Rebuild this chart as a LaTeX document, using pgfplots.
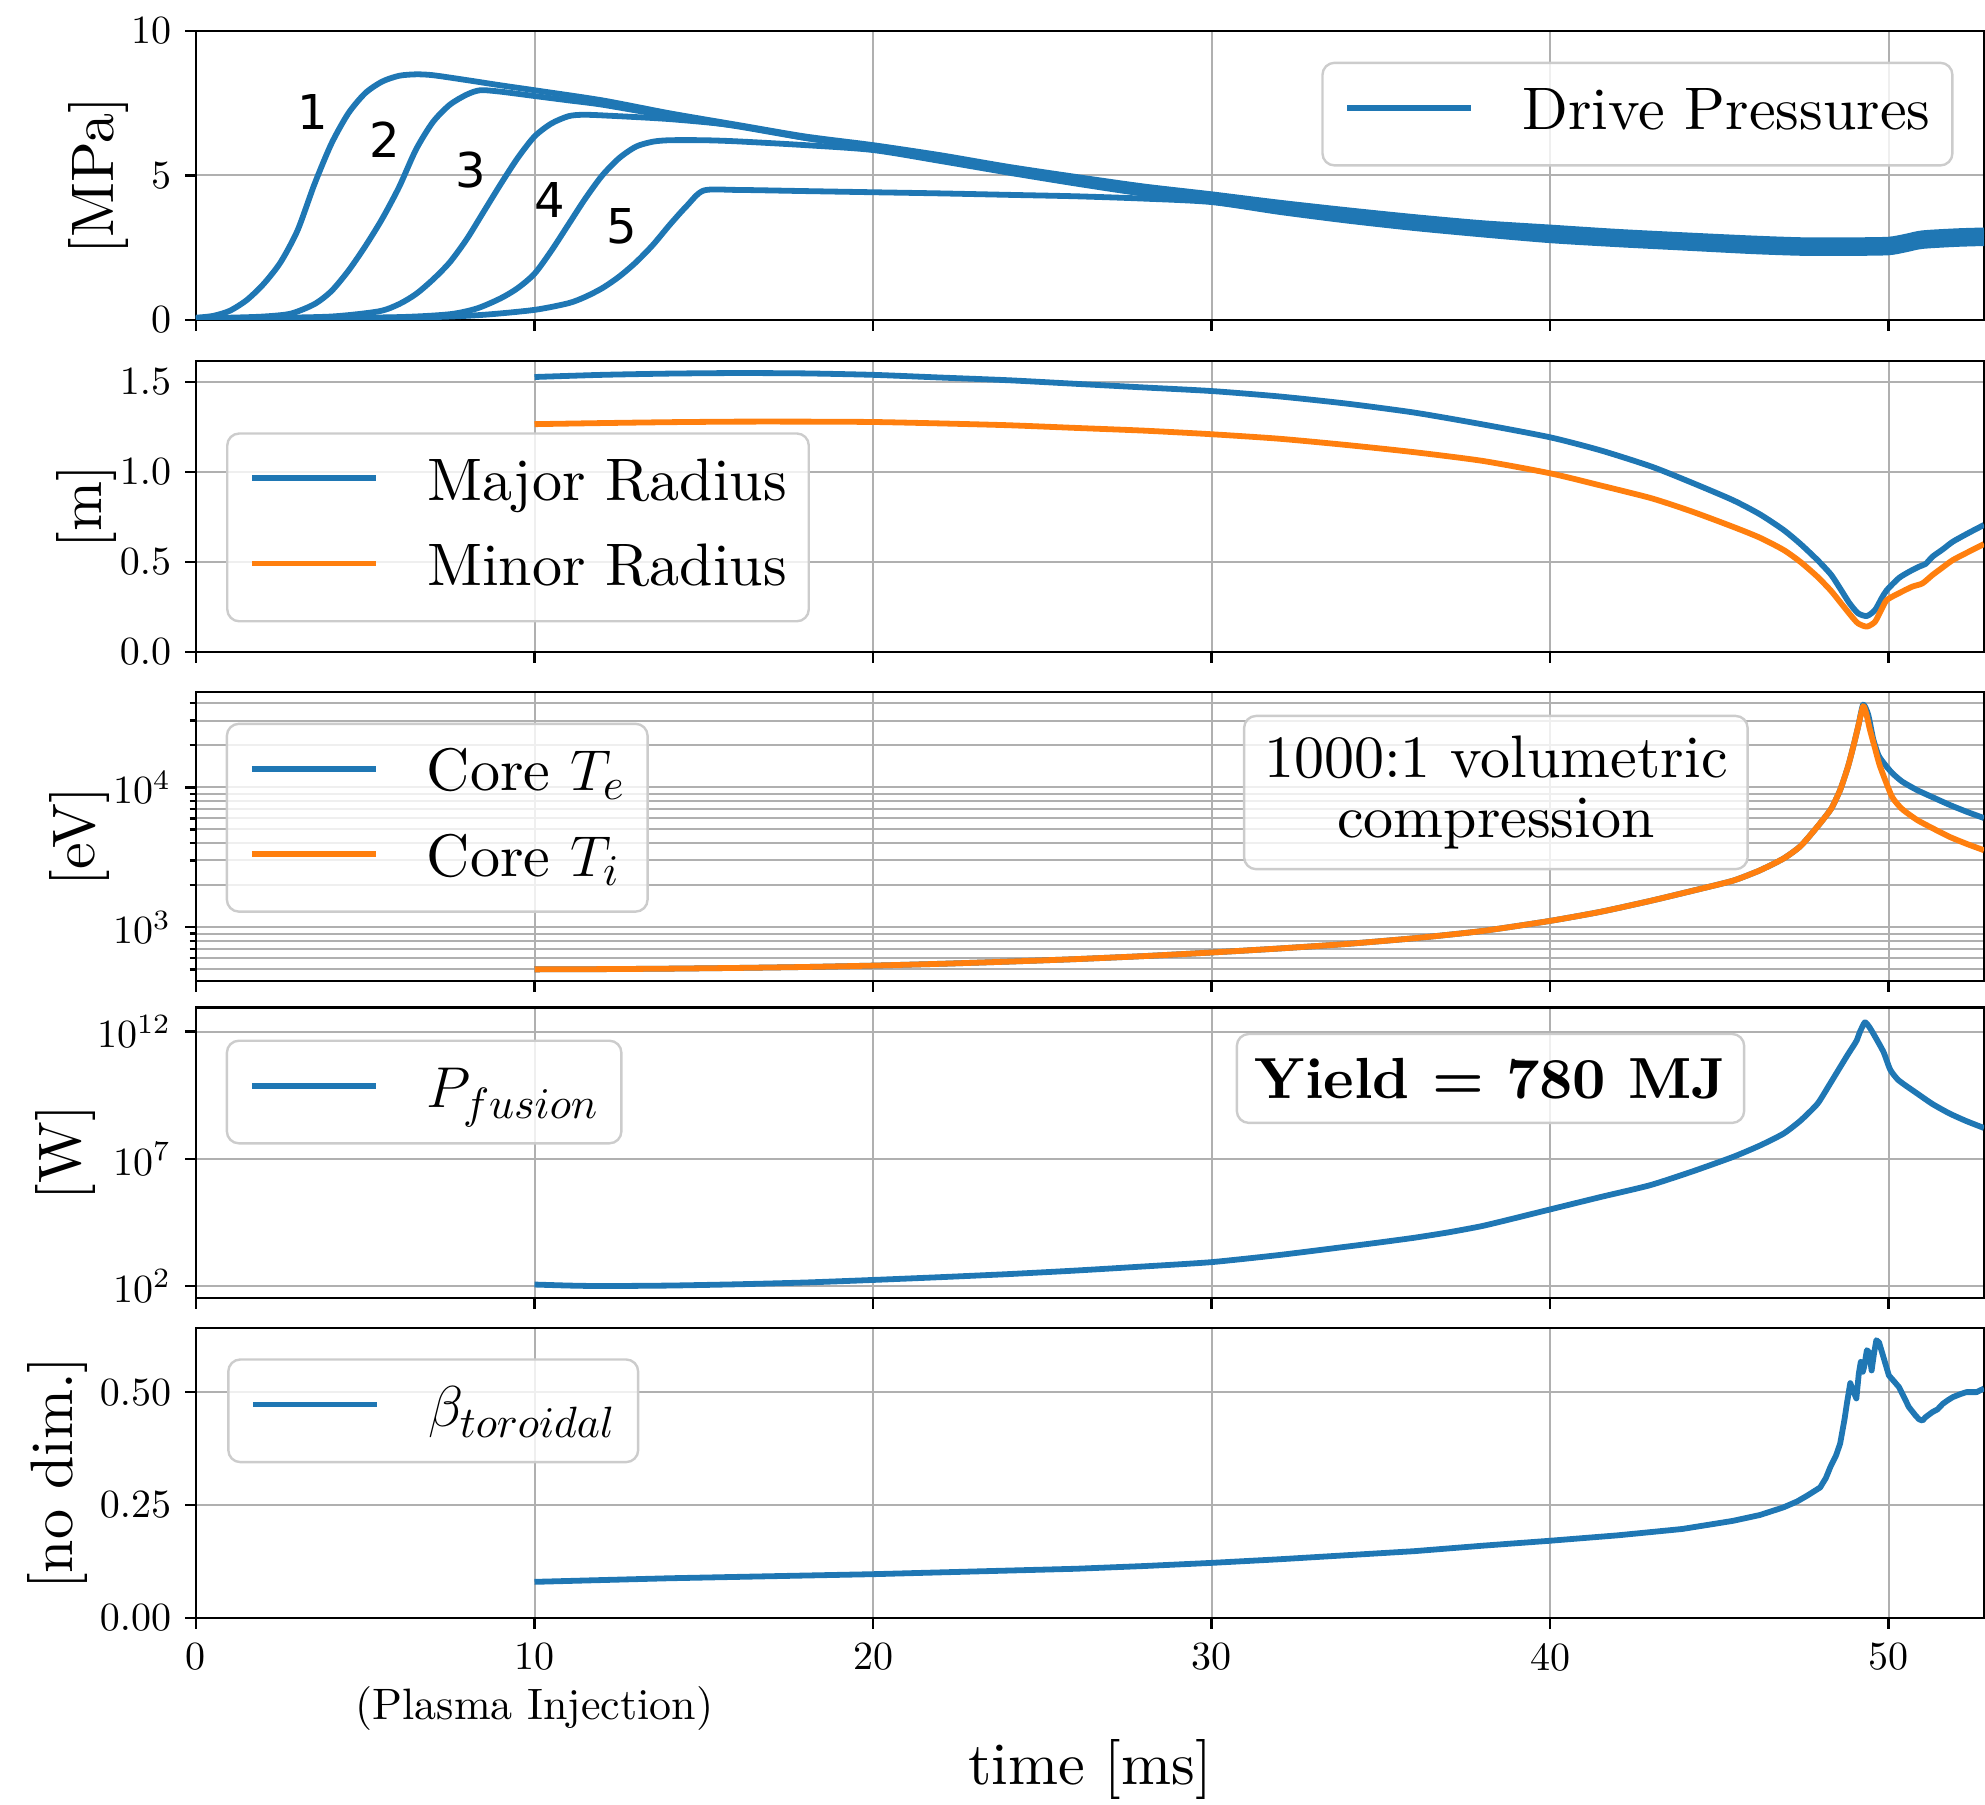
\documentclass[border=0pt]{standalone}
\usepackage{fontspec}
\setmainfont{lmroman10-regular.otf}[BoldFont=lmroman10-bold.otf,ItalicFont=lmroman10-italic.otf,BoldItalicFont=lmroman10-bolditalic.otf]
\newfontfamily\djv{DejaVu Sans}
\usepackage{pgfplots}
\pgfplotsset{compat=1.18}
\definecolor{cA}{HTML}{1F77B4}
\definecolor{cB}{HTML}{FF7F0E}
\definecolor{gridc}{HTML}{B0B0B0}
\tikzset{tbox/.style={draw=black!20, line width=0.6pt, rounded corners=3pt, fill=white, fill opacity=0.8, text opacity=1}}
\pgfplotsset{
 panel/.style={
  scale only axis, width=447pt,
  xmin=0, xmax=52.82,
  xtick={0,10,20,30,40,50},
  xticklabels={},
  axis line style={line width=0.6pt},
  tick align=outside, tick pos=left,
  major tick length=2.7pt, minor tick length=1.6pt,
  tick style={black, line width=0.6pt},
  grid style={gridc, line width=0.5pt},
  xmajorgrids, ymajorgrids,
  tick label style={font=\fontsize{10}{12.5}\selectfont},
  ylabel style={font=\fontsize{15}{18}\selectfont, anchor=center},
  legend cell align=left,
  legend image code/.code={\draw[##1,line width=1.45pt] (0pt,1.6pt) -- (31pt,1.6pt); \path (43pt,1.6pt);},
  legend style={font=\fontsize{15}{18}\selectfont, draw=black!20, line width=0.6pt, rounded corners=3pt, fill=white, fill opacity=0.8, text opacity=1, inner xsep=5.5pt, inner ysep=5.5pt, row sep=6.65pt, column sep=0pt, nodes={inner sep=0pt, text height=11.25pt, text depth=3.4pt}},
  every axis plot/.append style={line width=1.45pt, line join=round},
 },
}
\begin{document}
\begin{tikzpicture}
\useasboundingbox (0pt,0pt) rectangle (496.25pt,-451.25pt);
% ---------------- Panel 1 ----------------
\begin{axis}[panel, at={(49pt,-7.75pt)}, anchor=north west, height=72.25pt,
  ymin=0, ymax=10, ytick={0,5,10}, ylabel={[MPa]},
  ylabel style={at={(axis description cs:-0.0548,0.5)}},
  legend style={at={(0.983,0.894)}, anchor=north east}]
\addplot[cA, smooth, tension=0.45] coordinates {(0,0.08)(0.5,0.14)(1,0.32)(1.5,0.69)(2,1.25)(2.5,2.0)(3,3.1)(3.5,4.7)(4,6.1)(4.5,7.15)(5,7.85)(5.5,8.25)(6,8.45)(6.5,8.5)(7,8.47)(8,8.3)(9,8.12)(10,7.95)(12,7.6)(14,7.15)(16,6.75)(18,6.35)(20,6.05)(22,5.7)(24,5.3)(26,4.95)(28,4.62)(30,4.35)(32,4.06)(34,3.8)(36,3.56)(38,3.35)(40,3.2)(42,3.05)(44,2.93)(46,2.82)(47.5,2.76)(49,2.76)(50,2.78)(50.5,2.88)(51,3.0)(52,3.07)(52.82,3.1)};
\addlegendentry{Drive Pressures}
\addplot[cA, smooth, tension=0.45, forget plot] coordinates {(0,0.06)(1,0.08)(2,0.12)(2.8,0.22)(3.5,0.55)(4,1.0)(4.5,1.7)(5,2.55)(5.5,3.5)(6,4.6)(6.5,5.9)(7,6.85)(7.5,7.45)(8,7.8)(8.4,7.95)(9,7.9)(10,7.75)(11,7.6)(12,7.45)(14,7.05)(16,6.7)(18,6.3)(20,5.98)(22,5.62)(24,5.22)(26,4.86)(28,4.52)(30,4.25)(32,3.96)(34,3.7)(36,3.46)(38,3.25)(40,3.09)(42,2.94)(44,2.82)(46,2.71)(47.5,2.65)(49,2.65)(50,2.67)(50.5,2.77)(51,2.89)(52,2.96)(52.82,2.99)};
\addplot[cA, smooth, tension=0.45, forget plot] coordinates {(0,0.05)(2,0.07)(4,0.12)(5.4,0.3)(6,0.55)(6.5,0.9)(7,1.4)(7.5,2.0)(8,2.8)(8.5,3.75)(9,4.7)(9.5,5.6)(10,6.35)(10.5,6.8)(11,7.05)(11.4,7.1)(12,7.08)(14,6.95)(16,6.72)(18,6.3)(20,5.95)(22,5.55)(24,5.15)(26,4.78)(28,4.42)(30,4.15)(32,3.86)(34,3.6)(36,3.36)(38,3.15)(40,2.98)(42,2.84)(44,2.71)(46,2.6)(47.5,2.54)(49,2.54)(50,2.56)(50.5,2.66)(51,2.78)(52,2.85)(52.82,2.88)};
\addplot[cA, smooth, tension=0.45, forget plot] coordinates {(0,0.04)(3,0.06)(6,0.1)(7.5,0.2)(8.3,0.4)(9,0.75)(9.5,1.1)(10,1.6)(10.5,2.4)(11,3.3)(11.5,4.2)(12,5.0)(12.5,5.6)(13,6.0)(13.5,6.17)(14,6.22)(15,6.22)(16,6.18)(18,6.05)(20,5.88)(22,5.5)(24,5.1)(26,4.72)(28,4.37)(30,4.1)(32,3.78)(34,3.5)(36,3.26)(38,3.05)(40,2.87)(42,2.73)(44,2.6)(46,2.49)(47.5,2.43)(49,2.43)(50,2.45)(50.5,2.55)(51,2.67)(52,2.74)(52.82,2.77)};
\addplot[cA, smooth, tension=0.45, forget plot] coordinates {(0,0.03)(4,0.05)(7,0.1)(8.5,0.18)(10,0.35)(11,0.58)(11.5,0.8)(12,1.1)(12.5,1.5)(13,2.0)(13.5,2.6)(14,3.3)(14.5,3.95)(15,4.48)(16,4.5)(18,4.46)(20,4.42)(22,4.38)(24,4.33)(26,4.28)(28,4.2)(30,4.08)(32,3.74)(34,3.44)(36,3.18)(38,2.96)(40,2.76)(42,2.62)(44,2.5)(46,2.38)(47.5,2.32)(49,2.32)(50,2.34)(50.5,2.44)(51,2.56)(52,2.63)(52.82,2.66)};
\node[font=\djv\fontsize{12}{14}\selectfont] at (axis cs:3.46,7.21) {1};
\node[font=\djv\fontsize{12}{14}\selectfont] at (axis cs:5.57,6.23) {2};
\node[font=\djv\fontsize{12}{14}\selectfont] at (axis cs:8.12,5.19) {3};
\node[font=\djv\fontsize{12}{14}\selectfont] at (axis cs:10.46,4.15) {4};
\node[font=\djv\fontsize{12}{14}\selectfont] at (axis cs:12.58,3.23) {5};
\end{axis}
% ---------------- Panel 2 ----------------
\begin{axis}[panel, at={(49pt,-90.25pt)}, anchor=north west, height=72.75pt,
  ymin=0, ymax=1.617, ytick={0,0.5,1,1.5},
  yticklabel style={/pgf/number format/fixed,/pgf/number format/fixed zerofill,/pgf/number format/precision=1},
  ylabel={[m]}, ylabel style={at={(axis description cs:-0.0613,0.5)}},
  legend style={at={(0.0168,0.755)}, anchor=north west}]
\addplot[cA, smooth, tension=0.4] coordinates {(10,1.528)(12,1.54)(14,1.547)(16,1.55)(18,1.548)(20,1.54)(22,1.525)(24,1.51)(26,1.49)(28,1.47)(30,1.45)(32,1.42)(34,1.38)(36,1.33)(38,1.265)(40,1.193)(41.5,1.12)(43,1.03)(44.2,0.94)(45.4,0.844)(46.2,0.765)(46.9,0.678)(47.4,0.6)(47.9,0.511)(48.3,0.43)(48.6,0.344)(48.85,0.27)(49.1,0.215)(49.36,0.2)(49.6,0.233)(49.8,0.3)(49.95,0.344)(50.3,0.41)(50.6,0.445)(50.9,0.474)(51.1,0.49)(51.3,0.53)(51.6,0.57)(51.9,0.613)(52.4,0.665)(52.82,0.706)};
\addlegendentry{Major Radius}
\addplot[cB, smooth, tension=0.4] coordinates {(10,1.266)(12,1.272)(14,1.277)(16,1.28)(18,1.28)(20,1.278)(22,1.27)(24,1.26)(26,1.245)(28,1.23)(30,1.21)(32,1.185)(34,1.15)(36,1.11)(38,1.062)(40,0.993)(41.5,0.925)(43,0.854)(44.2,0.78)(45.4,0.696)(46.2,0.635)(46.9,0.567)(47.4,0.5)(47.9,0.418)(48.3,0.34)(48.6,0.27)(48.9,0.2)(49.1,0.159)(49.36,0.141)(49.6,0.168)(49.8,0.24)(49.95,0.289)(50.3,0.326)(50.7,0.363)(51.0,0.381)(51.3,0.428)(51.6,0.47)(51.9,0.511)(52.4,0.56)(52.82,0.6)};
\addlegendentry{Minor Radius}
\end{axis}
% ---------------- Panel 3 ----------------
\begin{axis}[panel, at={(49pt,-173pt)}, anchor=north west, height=72.25pt,
  ymode=log, ymin=413, ymax=48000, ytick={1000,10000},
  minor ytick={500,600,700,800,900,2000,3000,4000,5000,6000,7000,8000,9000,20000,30000,40000},
  yminorgrids=true,
  ylabel={[eV]}, ylabel style={at={(axis description cs:-0.0649,0.5)}},
  legend style={at={(0.0166,0.894)}, anchor=north west}]
\addplot[cA, smooth, tension=0.35] coordinates {(10,500)(12,502)(14,506)(16,512)(18,520)(20,532)(22,548)(24,568)(26,592)(28,622)(30,660)(32,705)(34,760)(36,835)(38,940)(40,1110)(41.5,1290)(42.95,1540)(44.2,1820)(45.4,2150)(46.2,2550)(46.9,3100)(47.4,3800)(47.9,5240)(48.3,7000)(48.57,9560)(48.8,14000)(48.96,19600)(49.1,27000)(49.25,39000)(49.4,33000)(49.55,22000)(49.7,17000)(49.85,15000)(50.1,12700)(50.4,11000)(50.84,9560)(51.3,8500)(51.8,7500)(52.3,6700)(52.82,6030)};
\addlegendentry{Core $T_e$}
\addplot[cB, smooth, tension=0.35] coordinates {(10,500)(12,502)(14,506)(16,512)(18,520)(20,532)(22,548)(24,568)(26,592)(28,622)(30,660)(32,705)(34,760)(36,835)(38,940)(40,1110)(41.5,1290)(42.95,1540)(44.2,1820)(45.4,2150)(46.2,2550)(46.9,3100)(47.4,3800)(47.9,5240)(48.3,7000)(48.57,9560)(48.8,14000)(48.96,19600)(49.1,27000)(49.25,38000)(49.35,33000)(49.45,25800)(49.6,19000)(49.75,14100)(50.1,8590)(50.4,7000)(50.84,5850)(51.3,5100)(51.8,4430)(52.3,3950)(52.82,3550)};
\addlegendentry{Core $T_i$}
\node[tbox, align=center, inner xsep=5pt, inner ysep=5pt, font=\fontsize{15}{15}\selectfont] at (axis description cs:0.727,0.652) {1000:1 volumetric\\compression};
\end{axis}
% ---------------- Panel 4 ----------------
\begin{axis}[panel, at={(49pt,-251.9pt)}, anchor=north west, height=72.6pt,
  ymode=log, ymin=34, ymax=8.7e12, ytick={1e2,1e7,1e12}, yminorticks=false,
  ylabel={[W]}, ylabel style={at={(axis description cs:-0.0731,0.5)}},
  legend style={at={(0.0166,0.890)}, anchor=north west}]
\addplot[cA, smooth, tension=0.35] coordinates {(10,1.148e2)(11,1.047e2)(12,1.0e2)(14,1.047e2)(16,1.175e2)(18,1.380e2)(20,1.738e2)(22,2.239e2)(24,2.951e2)(26,4.074e2)(28,5.888e2)(30,8.710e2)(32,1.660e3)(34,3.548e3)(35,5.248e3)(36,7.943e3)(37,1.288e4)(38,2.291e4)(39,4.786e4)(40,1.023e5)(41.5,3.162e5)(42.95,9.120e5)(44.2,3.162e6)(45.4,1.175e7)(46.2,3.311e7)(46.9,9.772e7)(47.4,3.162e8)(47.9,1.445e9)(48.25,7.943e9)(48.57,3.981e10)(48.8,1.259e11)(48.97,2.818e11)(49.06,4.467e11)(49.16,1.0e12)(49.3,2.291e12)(49.42,1.585e12)(49.55,8.318e11)(49.85,1.585e11)(50.05,3.162e10)(50.3,1.202e10)(50.84,3.715e9)(51.3,1.413e9)(51.8,6.026e8)(52.3,3.020e8)(52.82,1.622e8)};
\addlegendentry{$P_{fusion}$}
\node[tbox, inner xsep=4.5pt, inner ysep=6pt, font=\fontsize{14.5}{17}\selectfont\bfseries] at (axis description cs:0.724,0.756) {Yield = 780 MJ};
\end{axis}
% ---------------- Panel 5 ----------------
\begin{axis}[panel, at={(49pt,-332pt)}, anchor=north west, height=72.5pt,
  ymin=0, ymax=0.642, ytick={0,0.25,0.5},
  yticklabel style={/pgf/number format/fixed,/pgf/number format/fixed zerofill,/pgf/number format/precision=2},
  xticklabels={0,{10\\{\fontsize{11}{11}\selectfont(Plasma Injection)}},20,30,40,50},
  xticklabel style={align=center},
  xlabel={time [ms]},
  xlabel style={font=\fontsize{15}{18}\selectfont, at={(axis description cs:0.5,-0.521)}, anchor=center},
  ylabel={[no dim.]}, ylabel style={at={(axis description cs:-0.0777,0.5)}},
  legend style={at={(0.0174,0.8955)}, anchor=north west}]
\addplot[cA] coordinates {(10,0.08)(12,0.084)(14,0.088)(16,0.091)(18,0.094)(20,0.097)(22,0.101)(24,0.105)(26,0.109)(28,0.115)(30,0.122)(32,0.13)(34,0.139)(36,0.148)(38,0.16)(40,0.171)(42,0.183)(43.9,0.197)(45.4,0.215)(46.2,0.228)(46.9,0.245)(47.3,0.258)(47.6,0.271)(47.98,0.289)(48.15,0.31)(48.28,0.334)(48.45,0.36)(48.57,0.386)(48.7,0.44)(48.77,0.475)(48.87,0.52)(48.97,0.50)(49.05,0.486)(49.12,0.54)(49.18,0.567)(49.24,0.545)(49.28,0.556)(49.36,0.593)(49.43,0.588)(49.5,0.548)(49.57,0.585)(49.64,0.615)(49.72,0.61)(49.82,0.585)(50.01,0.537)(50.15,0.525)(50.31,0.511)(50.45,0.49)(50.6,0.467)(50.8,0.448)(50.9,0.44)(51.0,0.437)(51.1,0.445)(51.3,0.456)(51.45,0.462)(51.6,0.474)(51.75,0.482)(51.9,0.489)(52.1,0.495)(52.3,0.5)(52.6,0.5)(52.82,0.508)};
\addlegendentry{$\beta_{toroidal}$}
\end{axis}
\end{tikzpicture}
\end{document}
